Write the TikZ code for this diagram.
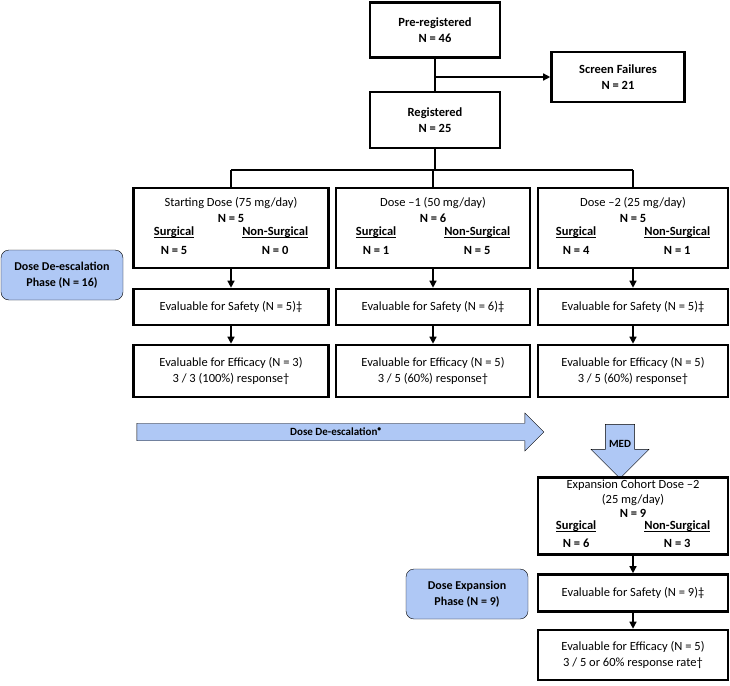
\documentclass[tikz,border=0pt]{standalone}
\usepackage{fontspec}
\setmainfont{Carlito}
\usetikzlibrary{shapes.arrows,arrows.meta}
\definecolor{phaseblue}{HTML}{AFC8F5}
\tikzset{
  box/.style={draw,line width=2.6pt,align=center,inner sep=2pt,font=\fontsize{12.5}{16}\selectfont},
  phase/.style={draw,rounded corners=8pt,fill=phaseblue,align=center,font=\bfseries\fontsize{12}{16}\selectfont,minimum width=122pt,minimum height=50pt},
  flow/.style={-{Triangle[length=7pt,width=7pt]},line width=1.3pt},
  link/.style={line width=1.3pt}
}
\newcommand{\ulbf}[1]{\setbox0\hbox{\textbf{#1}}\rlap{\rule[-2pt]{\wd0}{0.7pt}}\box0}
\newcommand{\armsplit}[2]{\\[1pt]\begin{tabular}{@{}c@{\hspace{48pt}}c@{}}\ulbf{Surgical} & \ulbf{Non-Surgical}\\[3pt]
\textbf{N = #1} & \textbf{N = #2}\end{tabular}}
\begin{document}
\begin{tikzpicture}[x=1pt,y=-1pt]
\useasboundingbox (0,0) rectangle (730,685);
% top of the flow
\node[box,minimum width=130pt,minimum height=55pt,font=\bfseries\fontsize{12.5}{16}\selectfont] (prereg) at (435,30) {Pre-registered\\N = 46};
\node[box,minimum width=133pt,minimum height=50pt,font=\bfseries\fontsize{12.5}{16}\selectfont] (fail) at (618,77) {Screen Failures\\N = 21};
\node[box,minimum width=130pt,minimum height=56pt,font=\bfseries\fontsize{12.5}{16}\selectfont] (reg) at (435,120) {Registered\\N = 25};
\coordinate (split) at (435,77);
\draw[link] (prereg) -- (reg);
\draw[flow] (split) -- (fail);
% dose levels
\node[box,minimum width=195pt,minimum height=80pt] (dose1) at (231,228) {Starting Dose (75 mg/day)\\\textbf{N = 5}\armsplit{5}{0}};
\node[box,minimum width=194pt,minimum height=80pt] (dose2) at (433,228) {Dose {\textendash}1 (50 mg/day)\\\textbf{N = 6}\armsplit{1}{5}};
\node[box,minimum width=190pt,minimum height=80pt] (dose3) at (633,228) {Dose {\textendash}2 (25 mg/day)\\\textbf{N = 5}\armsplit{4}{1}};
\coordinate (bus) at (435,170);
\draw[link] (reg) -- (bus);
\draw[link] (dose1.north |- bus) -- (dose3.north |- bus);
\foreach \d in {dose1,dose2,dose3}
  \draw[link] (\d.north |- bus) -- (\d.north);
% safety and efficacy
\node[box,minimum width=195pt,minimum height=36pt] (safe1) at (231,307) {Evaluable for Safety (N = 5)‡};
\node[box,minimum width=194pt,minimum height=36pt] (safe2) at (433,307) {Evaluable for Safety (N = 6)‡};
\node[box,minimum width=190pt,minimum height=36pt] (safe3) at (633,307) {Evaluable for Safety (N = 5)‡};
\node[box,minimum width=195pt,minimum height=52pt] (eff1) at (231,371) {Evaluable for Efficacy (N = 3)\\3 / 3 (100\%) response†};
\node[box,minimum width=194pt,minimum height=52pt] (eff2) at (433,371) {Evaluable for Efficacy (N = 5)\\3 / 5 (60\%) response†};
\node[box,minimum width=190pt,minimum height=52pt] (eff3) at (633,371) {Evaluable for Efficacy (N = 5)\\3 / 5 (60\%) response†};
\foreach \i in {1,2,3} {
  \draw[flow] (dose\i) -- (safe\i);
  \draw[flow] (safe\i) -- (eff\i);
}
\node[phase] (deesc) at (62,275) {Dose De-escalation\\Phase (N = 16)};
% arrows between phases
\node[single arrow,draw,fill=phaseblue,minimum height=407pt,minimum width=38pt,single arrow head extend=6pt,inner sep=1pt,font=\bfseries\fontsize{11}{12}\selectfont] (desc) at (336,432) {Dose De-escalation\textsuperscript{\textbullet}};
\node[single arrow,draw,fill=phaseblue,shape border rotate=270,minimum height=54pt,minimum width=58pt,single arrow head extend=12pt,single arrow tip angle=90,inner sep=1pt,font=\bfseries\fontsize{11}{12}\selectfont] (med) at (620,444) {MED};
% expansion cohort
\node[box,minimum width=190pt,minimum height=77pt,font=\fontsize{12.5}{14.5}\selectfont] (exp) at (633,516) {Expansion Cohort Dose {\textendash}2\\(25 mg/day)\\\textbf{N = 9}\armsplit{6}{3}};
\node[box,minimum width=190pt,minimum height=37pt] (safe4) at (633,593) {Evaluable for Safety (N = 9)‡};
\node[box,minimum width=190pt,minimum height=50pt] (eff4) at (633,655) {Evaluable for Efficacy (N = 5)\\3 / 5 or 60\% response rate†};
\draw[flow] (exp) -- (safe4);
\draw[flow] (safe4) -- (eff4);
\node[phase] (expph) at (467,594) {Dose Expansion\\Phase (N = 9)};
\end{tikzpicture}
\end{document}
